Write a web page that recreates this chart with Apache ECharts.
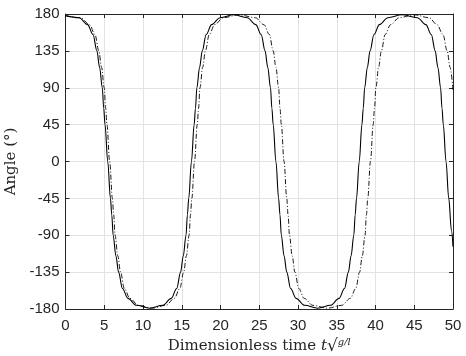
<!DOCTYPE html>
<html>
<head>
<meta charset="utf-8">
<script src="https://cdn.jsdelivr.net/npm/echarts@6/dist/echarts.min.js"></script>
<style>
  html, body { margin: 0; padding: 0; background: #fff; }
  #main { width: 466px; height: 356px; }
</style>
</head>
<body>
<div id="main"></div>
<script>
// x ticks and y ticks
var xTicks = [0, 5, 10, 15, 20, 25, 30, 35, 40, 45, 50];
var yTicks = [-180, -135, -90, -45, 0, 45, 90, 135, 180];

// solid line, [t, angle]
var solidT = [0, 1.75, 2.85, 3.55, 4.05, 4.4, 4.75, 4.93, 5.1, 5.45, 5.8, 5.97, 6.15, 6.5, 6.85, 7.35, 8.05, 9.15, 10.85,
  12.55, 13.65, 14.35, 14.85, 15.2, 15.55, 15.73, 15.9, 16.25, 16.6, 16.77, 16.95, 17.3, 17.65, 18.15, 18.85, 19.95, 21.7,
  23.45, 24.55, 25.25, 25.75, 26.1, 26.45, 26.63, 26.8, 27.15, 27.5, 27.67, 27.85, 28.2, 28.55, 29.05, 29.75, 30.85, 32.55,
  34.2, 35.3, 36.0, 36.5, 36.85, 37.2, 37.38, 37.55, 37.9, 38.25, 38.42, 38.6, 38.95, 39.3, 39.8, 40.5, 41.6, 43.4,
  45.4, 46.5, 47.2, 47.7, 48.05, 48.4, 48.58, 48.75, 49.1, 49.45, 49.8, 50];
var solidA = [178, 175.5, 167, 155, 135, 115, 90, 65, 45, 0, -45, -65, -90, -115, -135, -155, -167, -175.5, -179,
  -175.5, -167, -155, -135, -115, -90, -65, -45, 0, 45, 65, 90, 115, 135, 155, 167, 175.5, 179,
  175.5, 167, 155, 135, 115, 90, 65, 45, 0, -45, -65, -90, -115, -135, -155, -167, -175.5, -179,
  -175.5, -167, -155, -135, -115, -90, -65, -45, 0, 45, 65, 90, 115, 135, 155, 167, 175.5, 179,
  175.5, 167, 155, 135, 115, 90, 65, 45, 0, -45, -84, -104];

// dash-dot line
var dashT = [0, 1.95, 3.1, 3.8, 4.3, 4.65, 5.0, 5.18, 5.35, 5.7, 6.05, 6.22, 6.4, 6.75, 7.1, 7.6, 8.3, 9.4, 11.2,
  12.95, 14.05, 14.75, 15.25, 15.6, 15.95, 16.13, 16.3, 16.65, 17.0, 17.17, 17.35, 17.7, 18.05, 18.55, 19.25, 20.35, 22.4,
  24.5, 25.6, 26.3, 26.8, 27.15, 27.5, 27.68, 27.85, 28.2, 28.55, 28.72, 28.9, 29.25, 29.6, 30.1, 30.8, 31.9, 33.8,
  35.65, 36.75, 37.45, 37.95, 38.3, 38.65, 38.83, 39.0, 39.35, 39.7, 39.87, 40.05, 40.4, 40.75, 41.25, 41.95, 43.05, 45.0,
  46.9, 47.95, 48.7, 49.25, 49.62, 50];
var dashA = [178, 175.5, 167, 155, 135, 115, 90, 65, 45, 0, -45, -65, -90, -115, -135, -155, -167, -175.5, -179,
  -175.5, -167, -155, -135, -115, -90, -65, -45, 0, 45, 65, 90, 115, 135, 155, 167, 175.5, 179,
  175.5, 167, 155, 135, 115, 90, 65, 45, 0, -45, -65, -90, -115, -135, -155, -167, -175.5, -179,
  -175.5, -167, -155, -135, -115, -90, -65, -45, 0, 45, 65, 90, 115, 135, 155, 167, 175.5, 179,
  175.5, 167, 155, 135, 115, 87];

function pairs(xs, ys) {
  var out = [];
  for (var i = 0; i < xs.length; i++) out.push([xs[i], ys[i]]);
  return out;
}

var frame = '#262626';
var gridC = '#e3e3e3';
var serif = "'DejaVu Serif', serif";
var labelFont = { color: '#262626', fontSize: 15, fontFamily: "'Liberation Sans', Arial, sans-serif" };

var xBase = {
  type: 'value', min: xTicks[0], max: xTicks[xTicks.length - 1], interval: 5,
  axisLine: { show: true, onZero: false, lineStyle: { color: frame, width: 1 } },
  axisTick: { show: true, inside: true, length: 4, lineStyle: { color: frame } }
};
var yBase = {
  type: 'value', min: yTicks[0], max: yTicks[yTicks.length - 1], interval: 45,
  axisLine: { show: true, onZero: false, lineStyle: { color: frame, width: 1 } },
  axisTick: { show: true, inside: true, length: 4, lineStyle: { color: frame } }
};

var myChart = echarts.init(document.getElementById('main'));
myChart.setOption({
  animation: false,
  backgroundColor: '#fff',
  grid: { left: 65.5, right: 13, top: 14, bottom: 47, outerBoundsMode: 'none', containLabel: false },
  xAxis: [
    Object.assign({}, xBase, {
      position: 'bottom',
      axisLabel: Object.assign({ margin: 9 }, labelFont),
      splitLine: { show: true, lineStyle: { color: gridC, width: 1 } },
      name: '{n|Dimensionless time }{i|t}{s|\u221A}{f|g/l}',
      nameLocation: 'middle',
      nameGap: 27,
      nameTextStyle: {
        rich: {
          n: { fontFamily: serif, fontSize: 15, color: '#262626' },
          i: { fontFamily: serif, fontStyle: 'italic', fontSize: 15, color: '#262626' },
          s: { fontFamily: serif, fontSize: 17, color: '#262626' },
          f: { fontFamily: serif, fontStyle: 'italic', fontSize: 10, color: '#262626', verticalAlign: 'top' }
        }
      }
    }),
    Object.assign({}, xBase, {
      position: 'top',
      axisLabel: { show: false },
      splitLine: { show: false }
    })
  ],
  yAxis: [
    Object.assign({}, yBase, {
      position: 'left',
      axisLabel: Object.assign({ margin: 6 }, labelFont),
      splitLine: { show: true, lineStyle: { color: gridC, width: 1 } },
      name: 'Angle (\u00B0)',
      nameLocation: 'middle',
      nameGap: 42,
      nameTextStyle: { fontFamily: serif, fontSize: 15, color: '#262626' }
    }),
    Object.assign({}, yBase, {
      position: 'right',
      axisLabel: { show: false },
      splitLine: { show: false }
    })
  ],
  series: [
    {
      type: 'line',
      data: pairs(solidT, solidA),
      showSymbol: false,
      smooth: 0.35,
      smoothMonotone: 'x',
      lineStyle: { color: '#000', width: 1.1 }
    },
    {
      type: 'line',
      data: pairs(dashT, dashA),
      showSymbol: false,
      smooth: 0.35,
      smoothMonotone: 'x',
      lineStyle: { color: '#000', width: 0.9, type: [5, 2, 1, 2] }
    }
  ]
});
</script>
</body>
</html>
